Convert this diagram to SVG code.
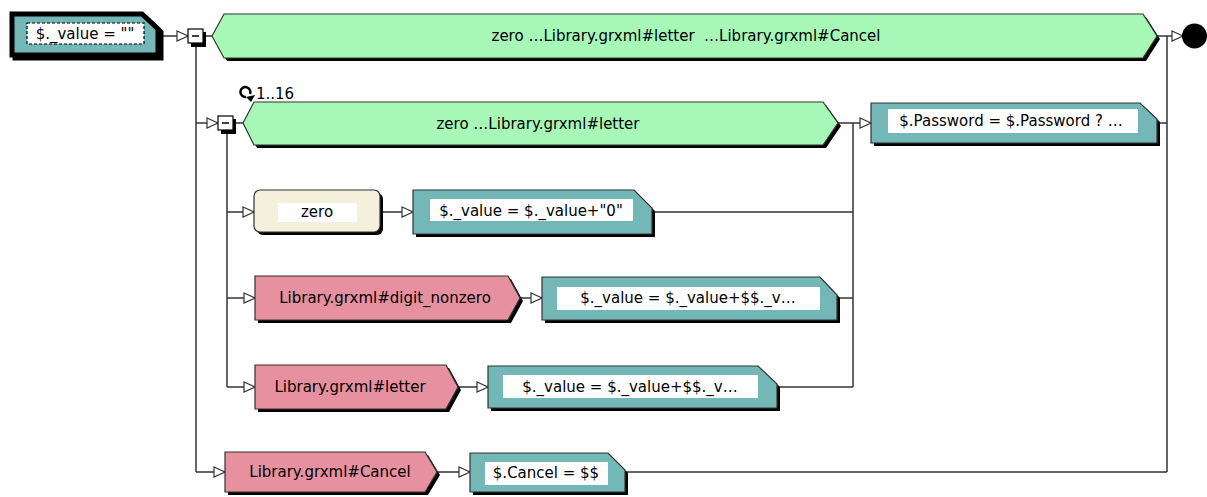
<svg xmlns="http://www.w3.org/2000/svg" width="1207" height="497" viewBox="0 0 1207 497">
<style>
  text { font-family: "DejaVu Sans", "Liberation Sans", sans-serif; font-size: 15px; fill: #000; }
  .lbl { text-anchor: middle; dominant-baseline: central; }
  .ln { stroke: #333; stroke-width: 1.5; fill: none; }
  .lnA { stroke: #333; stroke-width: 1.5; fill: none; marker-end: url(#tri); }
  .sh { fill: #000; }
  .green { fill: #a7f7b6; stroke: #333; stroke-width: 1.2; }
  .teal { fill: #74b7b7; stroke: #333; stroke-width: 1.2; }
  .pink { fill: #e7909f; stroke: #333; stroke-width: 1.2; }
  .beige { fill: #f4f0dc; stroke: #333; stroke-width: 1.2; }
  .wbox { fill: #fff; }
  .minus { fill: #fff; stroke: #000; stroke-width: 1.2; }
</style>
<defs>
  <marker id="tri" markerUnits="userSpaceOnUse" markerWidth="14" markerHeight="14" refX="12" refY="6" orient="auto">
    <path d="M1,1 L12,6 L1,11 Z" fill="#fff" stroke="#333" stroke-width="1.2"/>
  </marker>
</defs>
<rect width="1207" height="497" fill="#fff"/>

<g id="connectors">
  <line class="lnA" x1="163" y1="36" x2="188" y2="36"/>
  <line class="ln" x1="203" y1="36" x2="212" y2="36"/>
  <line class="lnA" x1="1157" y1="36" x2="1183" y2="36"/>
  <line class="ln" x1="1167" y1="36" x2="1167" y2="472"/>
  <line class="ln" x1="196" y1="43" x2="196" y2="472"/>
  <line class="lnA" x1="196" y1="123" x2="218" y2="123"/>
  <line class="ln" x1="233" y1="123" x2="243" y2="123"/>
  <line class="lnA" x1="838" y1="123" x2="871" y2="123"/>
  <line class="ln" x1="1157" y1="123" x2="1167" y2="123"/>
  <line class="ln" x1="853" y1="123" x2="853" y2="387"/>
  <line class="ln" x1="227" y1="130" x2="227" y2="387"/>
  <line class="lnA" x1="227" y1="212" x2="254" y2="212"/>
  <line class="lnA" x1="380" y1="212" x2="413" y2="212"/>
  <line class="ln" x1="652" y1="212" x2="853" y2="212"/>
  <line class="lnA" x1="227" y1="298" x2="255" y2="298"/>
  <line class="lnA" x1="520" y1="298" x2="542" y2="298"/>
  <line class="ln" x1="837" y1="298" x2="853" y2="298"/>
  <line class="lnA" x1="227" y1="387" x2="255" y2="387"/>
  <line class="lnA" x1="458" y1="387" x2="488" y2="387"/>
  <line class="ln" x1="777" y1="387" x2="853" y2="387"/>
  <line class="lnA" x1="196" y1="472" x2="225" y2="472"/>
  <line class="lnA" x1="437" y1="472" x2="470" y2="472"/>
  <line class="ln" x1="625" y1="472" x2="1167" y2="472"/>
</g>

<g id="start">
  <path d="M12,14 L142,14 L158,29 L158,55 L12,55 Z" fill="#000" transform="translate(3,3)" stroke="#000" stroke-width="5"/>
  <path d="M12,14 L142,14 L158,29 L158,55 L12,55 Z" fill="#74b7b7" stroke="#000" stroke-width="5"/>
  <rect x="27" y="23" width="117" height="21" fill="#fff" stroke="#000" stroke-width="1.2" stroke-dasharray="3,2"/>
  <text class="lbl" x="85" y="34">$._value = ""</text>
</g>

<g id="seq1">
  <rect class="sh" x="191" y="32" width="15" height="15"/>
  <rect class="minus" x="188" y="29" width="15" height="14"/>
  <line x1="192" y1="36" x2="199" y2="36" stroke="#000" stroke-width="1.5"/>
</g>

<g id="top">
  <path class="sh" d="M212,36 L224,14 L1143,14 L1157,36 L1143,58 L224,58 Z" transform="translate(3,3)"/>
  <path class="green" d="M212,36 L224,14 L1143,14 L1157,36 L1143,58 L224,58 Z"/>
  <text class="lbl" x="686" y="36" style="white-space:pre">zero …Library.grxml#letter  …Library.grxml#Cancel</text>
</g>

<g id="end">
  <circle cx="1194.5" cy="36" r="12.5" fill="#000"/>
</g>

<g id="seq2">
  <rect class="sh" x="221" y="119" width="15" height="15"/>
  <rect class="minus" x="218" y="116" width="15" height="14"/>
  <line x1="222" y1="123" x2="229" y2="123" stroke="#000" stroke-width="1.5"/>
</g>

<g id="loop">
  <path class="sh" d="M243,123 L254,102 L823,102 L838,123 L823,145 L254,145 Z" transform="translate(3,3)"/>
  <path class="green" d="M243,123 L254,102 L823,102 L838,123 L823,145 L254,145 Z"/>
  <text class="lbl" x="538" y="124">zero …Library.grxml#letter</text>
  <path d="M250,94 A5,5 0 1 0 246,97" fill="none" stroke="#000" stroke-width="2.5"/>
  <path d="M246,97 L255,95 L251,102 Z" fill="#000"/>
  <text x="256" y="99" style="font-size:15px">1..16</text>
</g>

<g id="password">
  <path class="sh" d="M871,103 L1140,103 L1157,119 L1157,143 L871,143 Z" transform="translate(3,3)"/>
  <path class="teal" d="M871,103 L1140,103 L1157,119 L1157,143 L871,143 Z"/>
  <rect class="wbox" x="888" y="109" width="250" height="24"/>
  <text class="lbl" x="1011" y="121">$.Password = $.Password ? …</text>
</g>

<g id="zero">
  <rect class="sh" x="257" y="193" width="126" height="42" rx="6"/>
  <rect class="beige" x="254" y="190" width="126" height="42" rx="6"/>
  <rect class="wbox" x="278" y="203" width="79" height="19"/>
  <text class="lbl" x="317" y="212">zero</text>
</g>

<g id="act-zero">
  <path class="sh" d="M413,190 L634,190 L652,208 L652,234 L413,234 Z" transform="translate(3,3)"/>
  <path class="teal" d="M413,190 L634,190 L652,208 L652,234 L413,234 Z"/>
  <rect class="wbox" x="430" y="199" width="203" height="22"/>
  <text class="lbl" x="531" y="211">$._value = $._value+"0"</text>
</g>

<g id="digit">
  <path class="sh" d="M255,276 L508,276 L520,298 L508,320 L255,320 Z" transform="translate(3,3)"/>
  <path class="pink" d="M255,276 L508,276 L520,298 L508,320 L255,320 Z"/>
  <text class="lbl" x="385" y="298">Library.grxml#digit_nonzero</text>
</g>

<g id="act-digit">
  <path class="sh" d="M542,277 L820,277 L837,295 L837,320 L542,320 Z" transform="translate(3,3)"/>
  <path class="teal" d="M542,277 L820,277 L837,295 L837,320 L542,320 Z"/>
  <rect class="wbox" x="557" y="287" width="263" height="23"/>
  <text class="lbl" x="688" y="298">$._value = $._value+$$._v…</text>
</g>

<g id="letter">
  <path class="sh" d="M255,365 L446,365 L458,387 L446,409 L255,409 Z" transform="translate(3,3)"/>
  <path class="pink" d="M255,365 L446,365 L458,387 L446,409 L255,409 Z"/>
  <text class="lbl" x="350" y="387">Library.grxml#letter</text>
</g>

<g id="act-letter">
  <path class="sh" d="M488,366 L758,366 L777,384 L777,408 L488,408 Z" transform="translate(3,3)"/>
  <path class="teal" d="M488,366 L758,366 L777,384 L777,408 L488,408 Z"/>
  <rect class="wbox" x="503" y="375" width="255" height="23"/>
  <text class="lbl" x="630" y="387">$._value = $._value+$$._v…</text>
</g>

<g id="cancel">
  <path class="sh" d="M225,452 L425,452 L437,472 L425,492 L225,492 Z" transform="translate(3,3)"/>
  <path class="pink" d="M225,452 L425,452 L437,472 L425,492 L225,492 Z"/>
  <text class="lbl" x="330" y="472">Library.grxml#Cancel</text>
</g>

<g id="act-cancel">
  <path class="sh" d="M470,453 L608,453 L625,470 L625,492 L470,492 Z" transform="translate(3,3)"/>
  <path class="teal" d="M470,453 L608,453 L625,470 L625,492 L470,492 Z"/>
  <rect class="wbox" x="485" y="462" width="123" height="23"/>
  <text class="lbl" x="546" y="473">$.Cancel = $$</text>
</g>
</svg>
